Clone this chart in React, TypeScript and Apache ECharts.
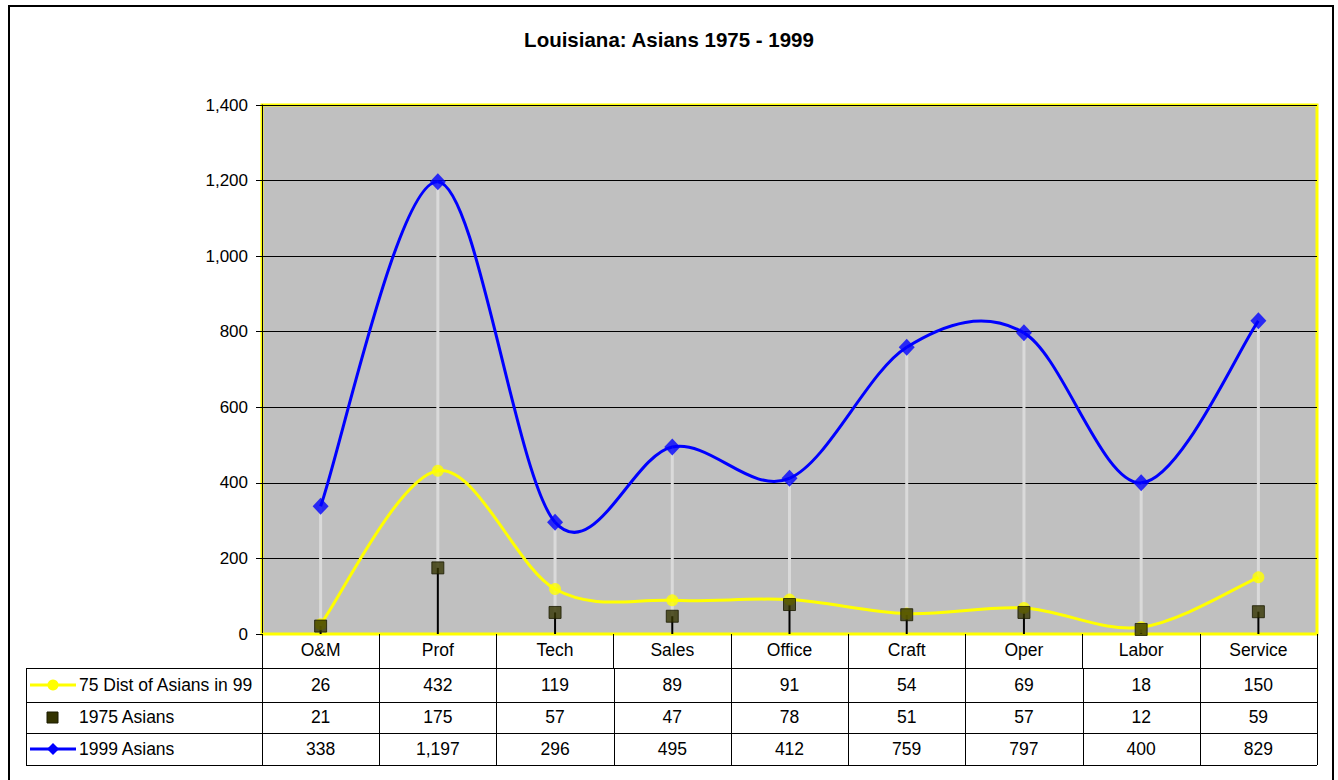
import React, { useEffect, useRef } from "react";
import * as echarts from "echarts";

const categories = ["O&M", "Prof", "Tech", "Sales", "Office", "Craft", "Oper", "Labor", "Service"];
const dist75 = [26, 432, 119, 89, 91, 54, 69, 18, 150];
const asians1975 = [21, 175, 57, 47, 78, 51, 57, 12, 59];
const asians1999 = [338, 1197, 296, 495, 412, 759, 797, 400, 829];
const rowNames = ["75 Dist of Asians in 99", "1975 Asians", "1999 Asians"];
const yTicks = { min: 0, max: 1400, interval: 200 };

const FONT = "'Liberation Sans', Arial, sans-serif";
const GRID = { left: 262, top: 105, width: 1055, height: 529 };
const BLUE = "#0000FF";
const YELLOW = "#FFFF00";
const OLIVE = "#333300";

const fmt = (v: number) => v.toLocaleString("en-US");

function smoothSeries(name: string, values: number[], color: string, z: number) {
  const n = values.length;
  const clamp = (k: number) => Math.max(0, Math.min(n - 1, k));
  return {
    type: "custom",
    name,
    z,
    silent: true,
    data: values.map((v, i) => [i, v]),
    encode: { x: 0, y: 1 },
    renderItem: (params: any, api: any) => {
      const i = params.dataIndex;
      if (i >= n - 1) return null;
      const p = (k: number) => api.coord([clamp(k), values[clamp(k)]]);
      const p0 = p(i - 1), p1 = p(i), p2 = p(i + 1), p3 = p(i + 2);
      return {
        type: "bezierCurve",
        shape: {
          x1: p1[0], y1: p1[1], x2: p2[0], y2: p2[1],
          cpx1: p1[0] + (p2[0] - p0[0]) / 6,
          cpy1: p1[1] + (p2[1] - p0[1]) / 6,
          cpx2: p2[0] - (p3[0] - p1[0]) / 6,
          cpy2: p2[1] - (p3[1] - p1[1]) / 6,
        },
        style: { stroke: color, lineWidth: 3, fill: null },
      };
    },
  };
}

export default function App() {
  const ref = useRef<HTMLDivElement>(null);
  useEffect(() => {
    const chart = echarts.init(ref.current!, null, { renderer: "svg" });
    const n = categories.length;
    const colW = GRID.width / n;
    const tableLeft = 26;
    const tableRight = GRID.left + GRID.width;
    const rowLines = [668, 702, 733, 765];
    const rowCenters = [685, 717, 749];
    const rows = [dist75, asians1975, asians1999];

    const graphics: any[] = [];
    graphics.push({
      type: "rect",
      shape: { x: 9, y: 6, width: 1324, height: 800 },
      style: { fill: null, stroke: "#000", lineWidth: 2 },
      silent: true,
    });
    rowLines.forEach((y) => {
      graphics.push({
        type: "line",
        shape: { x1: tableLeft, y1: y + 0.5, x2: tableRight, y2: y + 0.5 },
        style: { stroke: "#000", lineWidth: 1 },
        silent: true,
      });
    });
    graphics.push({
      type: "line",
      shape: { x1: tableLeft + 0.5, y1: rowLines[0], x2: tableLeft + 0.5, y2: rowLines[3] },
      style: { stroke: "#000", lineWidth: 1 },
      silent: true,
    });
    for (let k = 0; k <= n; k++) {
      const x = Math.round(GRID.left + colW * k) + 0.5;
      graphics.push({
        type: "line",
        shape: { x1: x, y1: rowLines[0], x2: x, y2: rowLines[3] },
        style: { stroke: "#000", lineWidth: 1 },
        silent: true,
      });
    }
    rows.forEach((vals, r) => {
      const cy = rowCenters[r];
      graphics.push({
        type: "text",
        style: {
          text: rowNames[r], x: 79, y: cy, fill: "#000",
          font: `17.5px ${FONT}`, textAlign: "left", textVerticalAlign: "middle",
        },
        silent: true,
      });
      vals.forEach((v, i) => {
        graphics.push({
          type: "text",
          style: {
            text: fmt(v), x: GRID.left + colW * (i + 0.5), y: cy, fill: "#000",
            font: `17.5px ${FONT}`, textAlign: "center", textVerticalAlign: "middle",
          },
          silent: true,
        });
      });
    });
    graphics.push({ type: "line", shape: { x1: 30, y1: rowCenters[0], x2: 76, y2: rowCenters[0] }, style: { stroke: YELLOW, lineWidth: 3 }, silent: true });
    graphics.push({ type: "circle", shape: { cx: 53, cy: rowCenters[0], r: 5.5 }, style: { fill: YELLOW }, silent: true });
    graphics.push({ type: "rect", shape: { x: 47, y: rowCenters[1] - 5, width: 11, height: 11 }, style: { fill: OLIVE, stroke: "#1a1a00", lineWidth: 1 }, silent: true });
    graphics.push({ type: "line", shape: { x1: 30, y1: rowCenters[2], x2: 76, y2: rowCenters[2] }, style: { stroke: BLUE, lineWidth: 3 }, silent: true });
    graphics.push({ type: "polygon", shape: { points: [[53, rowCenters[2] - 6], [59, rowCenters[2]], [53, rowCenters[2] + 6], [47, rowCenters[2]]] }, style: { fill: BLUE }, silent: true });

    const option: any = {
      animation: false,
      backgroundColor: "#fff",
      title: {
        text: "Louisiana: Asians 1975 - 1999",
        left: "center",
        top: 29,
        padding: 0,
        textStyle: { fontFamily: FONT, fontSize: 20.5, fontWeight: "bold", color: "#000" },
      },
      grid: {
        ...GRID,
        show: true,
        backgroundColor: "#C0C0C0",
        borderColor: YELLOW,
        borderWidth: 3,
      },
      xAxis: {
        type: "category",
        data: categories,
        boundaryGap: true,
        axisLine: { show: true, lineStyle: { color: YELLOW, width: 2 } },
        axisTick: { show: true, inside: false, length: 34, lineStyle: { color: "#000", width: 1 } },
        axisLabel: { show: true, margin: 6, fontFamily: FONT, fontSize: 17.5, color: "#000", lineHeight: 20, interval: 0 },
        splitLine: { show: false },
      },
      yAxis: {
        type: "value",
        min: yTicks.min,
        max: yTicks.max,
        interval: yTicks.interval,
        axisLine: { show: true, lineStyle: { color: "#000", width: 1 } },
        axisTick: { show: true, inside: false, length: 6, lineStyle: { color: "#000" } },
        axisLabel: {
          margin: 14, fontFamily: FONT, fontSize: 17, color: "#000",
          formatter: (v: number) => fmt(v),
        },
        splitLine: { show: true, lineStyle: { color: "#000", width: 1 } },
      },
      graphic: graphics,
      series: [
        {
          type: "custom",
          name: "droplines",
          z: 1,
          silent: true,
          data: asians1999.map((v, i) => [i, v, asians1975[i]]),
          encode: { x: 0, y: [1, 2] },
          renderItem: (params: any, api: any) => {
            const i = api.value(0);
            const top = api.coord([i, api.value(1)]);
            const mid = api.coord([i, api.value(2)]);
            const base = api.coord([i, 0]);
            return {
              type: "group",
              children: [
                { type: "line", shape: { x1: top[0], y1: top[1], x2: mid[0], y2: mid[1] }, style: { stroke: "#DADADA", lineWidth: 3 } },
                { type: "line", shape: { x1: mid[0], y1: mid[1], x2: base[0], y2: base[1] }, style: { stroke: "#000", lineWidth: 2 } },
              ],
            };
          },
        },
        smoothSeries("75 Dist of Asians in 99 line", dist75, YELLOW, 2),
        smoothSeries("1999 Asians line", asians1999, BLUE, 3),
        {
          type: "scatter",
          name: "75 Dist of Asians in 99",
          z: 4,
          data: dist75,
          symbol: "circle",
          symbolSize: 12,
          itemStyle: { color: YELLOW },
        },
        {
          type: "scatter",
          name: "1975 Asians",
          z: 4,
          data: asians1975,
          symbol: "rect",
          symbolSize: 12,
          itemStyle: { color: OLIVE, borderColor: "#1a1a00", borderWidth: 1 },
        },
        {
          type: "scatter",
          name: "1999 Asians",
          z: 5,
          data: asians1999,
          symbol: "diamond",
          symbolSize: [16, 17],
          itemStyle: { color: BLUE },
        },
      ],
    };
    chart.setOption(option);
    return () => chart.dispose();
  }, []);
  return (
    <div
      ref={ref}
      style={{ position: "fixed", left: 0, top: 0, width: 1338, height: 780 }}
    />
  );
}
